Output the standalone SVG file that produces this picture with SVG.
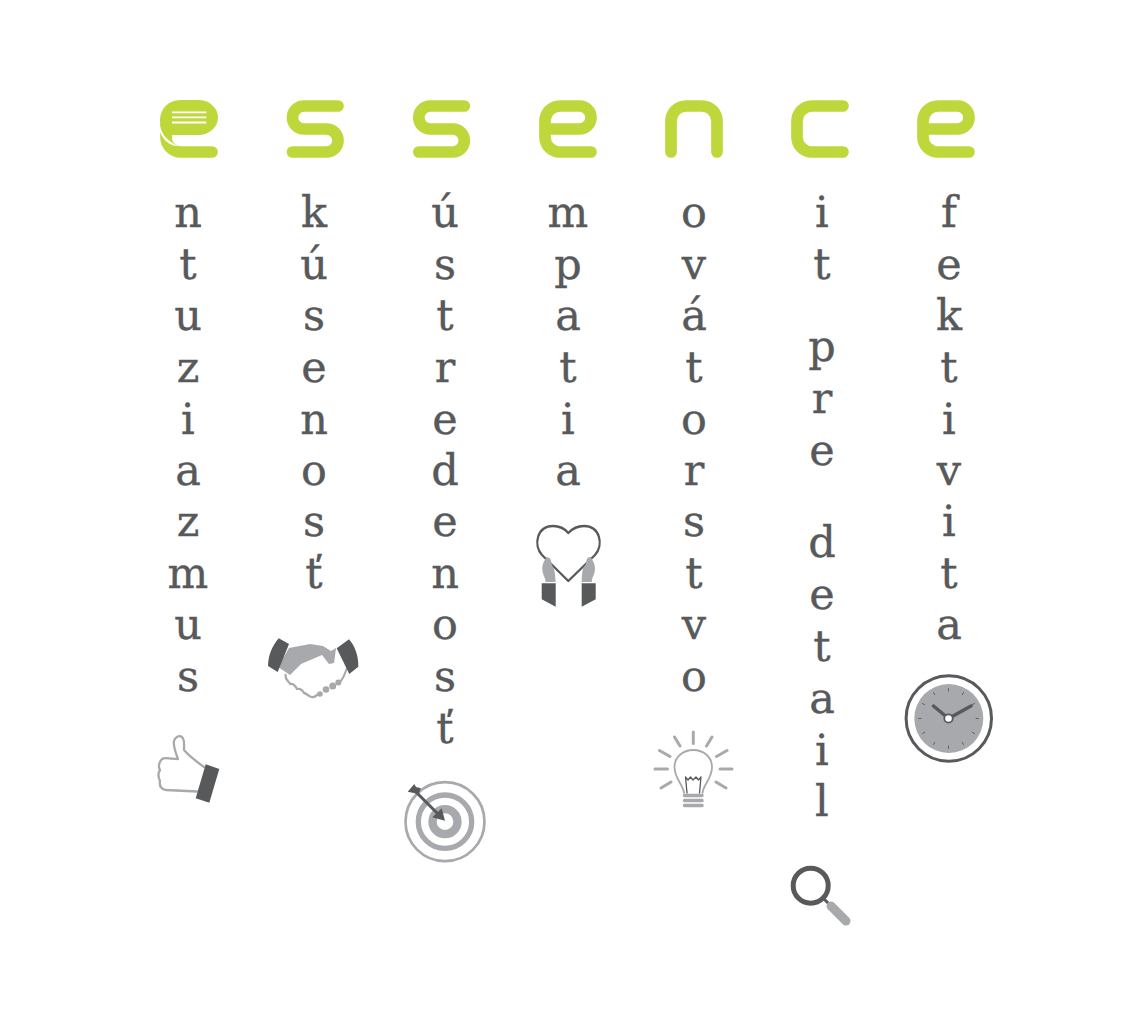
<svg xmlns="http://www.w3.org/2000/svg" width="1145" height="1024" viewBox="0 0 1145 1024">
<style>
.lg{fill:none;stroke:#bed73b;stroke-width:11.7;stroke-linecap:round;stroke-linejoin:round}
text{font-family:"DejaVu Serif","Liberation Serif",serif;font-size:43px;fill:#58595b;stroke:#58595b;stroke-width:.35px;text-anchor:middle}
.dk{fill:#58595b}.gr{fill:#a7a9ac}
.lgr{fill:none;stroke:#a7a9ac;stroke-linecap:round;stroke-linejoin:round}
.ldk{fill:none;stroke:#58595b;stroke-linecap:round;stroke-linejoin:round}
</style>
<defs>
<path id="e" d="M212 152H181a15 15 0 0 1-15-15V121a15 15 0 0 1 15-15H200.500a11.500 11.500 0 0 1 0 23H166"/>
<path id="s" d="M338 106H304a11.500 11.500 0 0 0 0 23H326.500a11.500 11.500 0 0 1 0 23H292.500"/>
</defs>
<rect width="1145" height="1024" fill="#fff"/>
<g id="col-1">
<path class="lg" d="M212 152H181a15 15 0 0 1-15-15V125"/>
<path d="M160 120a20 20 0 0 1 20-20h18.500a19.500 17.500 0 0 1 0 35H172V142C165 138 160 130 160 120Z" fill="#bed73b"/>
<path d="M160 126C162 134 166 139 172 142.500L178 146.200C170 146 163 140 160 132Z" fill="#fff"/>
<path d="M172 112.300H206.300M172 117.400H206.300M172 122.500H206.300" stroke="#fff" stroke-width="1.800" fill="none"/>
<text x="188" y="227">n</text><text x="188" y="279">t</text><text x="188" y="330">u</text><text x="188" y="382">z</text><text x="188" y="434">i</text><text x="188" y="485">a</text><text x="188" y="536">z</text><text x="188" y="588">m</text><text x="188" y="639">u</text><text x="188" y="691">s</text>
<g id="thumb">
<path class="lgr" stroke-width="2.300" d="M197 791.500L166 790C161 789 159 786 160 781C158 777 158 773 160 770C158 767 159 762 162 759C165 757 172 759 178 759C175 751 173 746 174 741C175 737 179 735 182 737C185 740 184 746 184 750C190 757 197 762 204 767"/>
<path class="dk" d="M205.700 764.300L219.300 769L209.300 802.700L195.700 798.300Z"/>
</g>
</g>
<g id="col-2">
<use href="#s" class="lg"/>
<text x="314" y="227">k</text><text x="314" y="279">ú</text><text x="314" y="330">s</text><text x="314" y="382">e</text><text x="314" y="434">n</text><text x="314" y="485">o</text><text x="314" y="536">s</text><text x="314" y="588">ť</text>
<g id="handshake">
<path class="lgr" stroke-width="2.300" d="M285.500 675C285 680 289 681 290 684C294 683 296 687 297 689C301 688 303 691 304 693C307 693 309 698 313 697C316 697 317 694 320 693"/>
<path class="lgr" stroke-width="2" d="M340 682C344 678 345 673 347 668"/>
<path class="gr" d="M289 648L310 644L323 646L331 651L336 648L335 656L334 663L329 664L322 655L301 664L290 675L278 667Z"/>
<circle class="gr" cx="320" cy="694" r="2.800"/><circle class="gr" cx="326" cy="689.500" r="3.300"/><circle class="gr" cx="332.700" cy="686" r="3.500"/><circle class="gr" cx="338.300" cy="682.500" r="3"/>
<path class="dk" d="M278.700 638.300L289 644L277.700 672L268 666C268 656 272 646 278.700 638.300Z"/>
<path class="dk" d="M349 639.300C355 646 358.500 656 358.300 666.700L349.300 674L336.700 648.300Z"/>
</g>
</g>
<g id="col-3">
<use href="#s" x="126.300" class="lg"/>
<text x="445" y="227">ú</text><text x="445" y="279">s</text><text x="445" y="330">t</text><text x="445" y="382">r</text><text x="445" y="434">e</text><text x="445" y="485">d</text><text x="445" y="536">e</text><text x="445" y="588">n</text><text x="445" y="639">o</text><text x="445" y="691">s</text><text x="445" y="743">ť</text>
<g id="target">
<circle class="lgr" cx="445" cy="821.700" r="39.500" stroke-width="2.700"/>
<circle class="lgr" cx="445" cy="821.700" r="26.700" stroke-width="5.300"/>
<circle class="lgr" cx="445" cy="821.700" r="12.500" stroke-width="8.300"/>
<path class="ldk" stroke-width="3" d="M416 792L438 814"/>
<path class="dk" d="M441.700 808.300L445 820.700L432.300 817.300ZM407.700 791.700L414.300 784L416 787L421 788.300L418.300 795L415 793.300Z"/>
</g>
</g>
<g id="col-4">
<use href="#e" x="379" class="lg"/>
<text x="568" y="227">m</text><text x="568" y="279">p</text><text x="568" y="330">a</text><text x="568" y="382">t</text><text x="568" y="434">i</text><text x="568" y="485">a</text>
<g id="heart">
<path class="ldk" stroke-width="2.300" d="M568.300 581L542 555C533 545 537 526 553 526C560 526 565 529 568.300 533C572 529 577 526 584 526C600 526 604 545 595 555Z"/>
<path class="gr" d="M546.500 557C549.500 557 551 559 551.500 563C552 566 553.500 567 554.500 571C555 574 555.500 578 555.500 582H545.500C545.500 577 542 574 542.300 568C542.500 563 545 560 546.500 557Z"/>
<path class="gr" d="M590.500 557C587.500 557 586.500 559 586 563C585.500 566 583 567 582.500 571C582 574 581.700 578 581.700 582H591.800C591.800 577 595.300 574 595 568C594.800 563 592.500 560 590.500 557Z"/>
<path class="dk" d="M541.700 583.300H555.700V606.700L541.700 599.300Z"/>
<path class="dk" d="M581.700 583.300H595.700V599.300L581.700 606.700Z"/>
</g>
</g>
<g id="col-5">
<path class="lg" d="M671 152V121a15 15 0 0 1 15-15H702a15 15 0 0 1 15 15V152"/>
<text x="694" y="227">o</text><text x="694" y="279">v</text><text x="694" y="330">á</text><text x="694" y="382">t</text><text x="694" y="434">o</text><text x="694" y="485">r</text><text x="694" y="536">s</text><text x="694" y="588">t</text><text x="694" y="639">v</text><text x="694" y="691">o</text>
<g id="bulb">
<path class="lgr" stroke-width="3" d="M693.300 732V743.500M674.500 737L680 746M712 737L706.500 746M659.500 750.500L670 756.500M727 750.500L716.500 756.500M655 769H667.500M720 769H732M661 788L671 782M726 788L716 782"/>
<path class="lgr" stroke-width="1.800" d="M684 793C683 784 674.500 779 674.500 767C674.500 757 683 750 693.300 750C703.500 750 712 757 712 767C712 779 703.500 784 702.500 793"/>
<path class="ldk" stroke-width="1.300" d="M687 793L685.500 777L688 780L690.500 777L693 780L696 777L698.500 780L701 777L699.500 793"/>
<path class="lgr" stroke-width="3.500" d="M684.500 795.500H702M684.500 800.500H702M684.500 805.500H702"/>
</g>
</g>
<g id="col-6">
<path class="lg" d="M843 106H812a15 15 0 0 0-15 15V137a15 15 0 0 0 15 15H843"/>
<text x="822" y="227">i</text><text x="822" y="279">t</text><text x="822" y="361">p</text><text x="822" y="413">r</text><text x="822" y="465">e</text><text x="822" y="557">d</text><text x="822" y="609">e</text><text x="822" y="661">t</text><text x="822" y="713">a</text><text x="822" y="765">i</text><text x="822" y="816">l</text>
<g id="magnifier">
<circle class="ldk" cx="810.700" cy="885.700" r="17.500" stroke-width="5"/>
<path class="ldk" stroke-width="3" d="M824 899L830 905"/>
<path class="lgr" stroke-width="9" d="M831 906L846 921"/>
</g>
</g>
<g id="col-7">
<use href="#e" x="757" class="lg"/>
<text x="949" y="227">f</text><text x="949" y="279">e</text><text x="949" y="330">k</text><text x="949" y="382">t</text><text x="949" y="434">i</text><text x="949" y="485">v</text><text x="949" y="536">i</text><text x="949" y="588">t</text><text x="949" y="639">a</text>
<g id="clock">
<circle class="ldk" cx="948.800" cy="718.500" r="42.700" stroke-width="3"/>
<circle class="gr" cx="948.800" cy="718.500" r="34.500"/>
<path class="ldk" stroke-width="0.900" d="M948.500 688.500v2.500M963.500 692.500l-1.200 2.200M974.500 703.500l-2.200 1.200M978.500 718.500h-2.500M974.500 733.500l-2.200-1.200M963.500 744.500l-1.200-2.200M948.500 748.500v-2.500M933.500 744.500l1.200-2.200M922.500 733.500l2.200-1.200M918.500 718.500h2.500M922.500 703.500l2.200 1.200M933.500 692.500l1.200 2.200"/>
<path class="ldk" stroke-width="3.500" d="M948.500 718.500L933.500 706M948.500 718.500L971 706"/>
<circle cx="948.500" cy="718.500" r="4.200" fill="#fff" stroke="#58595b" stroke-width="1.800"/>
</g>
</g>
</svg>
